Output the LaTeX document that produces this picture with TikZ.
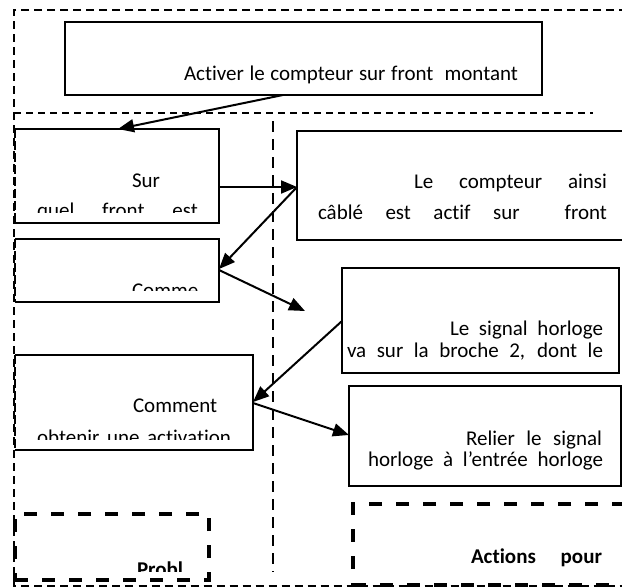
\documentclass[tikz,border=0pt]{standalone}
\usepackage{fontspec}
\setmainfont{Carlito}[Ligatures=NoCommon]
\usetikzlibrary{arrows.meta,calc}
\newcommand{\jl}[2]{\makebox[#1][s]{#2}}
\begin{document}
\begin{tikzpicture}[x=1pt,y=-1pt,
  boxn/.style={draw=black,line width=2pt,inner sep=0pt,outer sep=0pt,anchor=north west},
  openbox/.style={inner sep=0pt,outer sep=0pt,anchor=north west},
  edge/.style={draw=black,line width=2pt},
  leftedge/.style={draw=black,line width=2.4pt,dash pattern=on 9pt off 3pt},
  thickbox/.style={draw=black,line width=4pt,dash pattern=on 13pt off 14pt,inner sep=0pt,outer sep=0pt,anchor=north west},
  outerline/.style={draw=black,line width=2pt,dash pattern=on 8pt off 5pt},
  hline/.style={draw=black,line width=1.7pt,dash pattern=on 7pt off 5pt},
  vline/.style={draw=black,line width=2.2pt,dash pattern=on 11pt off 7pt},
  arr/.style={draw=black,line width=2pt,-{Triangle[length=16pt,width=13pt]}},
  txt/.style={inner sep=0pt,outer sep=0pt,anchor=base west,font=\fontsize{21}{25}\selectfont},
  btxt/.style={txt,font=\fontsize{21}{25}\selectfont\bfseries}]
\useasboundingbox (0,0) rectangle (622,587);
\clip (0,0) rectangle (622,587);
\fill[white] (0,0) rectangle (622,587);

% frame lines
\coordinate (otr) at (640,10);
\coordinate (otl) at (14,10);
\coordinate (obl) at (14,585.5);
\coordinate (obr) at (640,585.5);
\draw[outerline] (otr) -- (otl) -- (obl) -- (obr);
\coordinate (hl) at (14,113);
\coordinate (hr) at (593,113);
\draw[hline] (hl) -- (hr);
\coordinate (vt) at (273,121);
\coordinate (vb) at (273,572);
\draw[vline] (vt) -- (vb);

% boxes
\node[boxn,minimum width=477pt,minimum height=73pt] (top) at (65,22) {};
\node[openbox,minimum width=204pt,minimum height=94pt] (sur) at (15,129) {};
\draw[edge] (sur.north west) -- (sur.north east) -- (sur.south east) -- (sur.south west);
\draw[leftedge] (sur.north west) -- (sur.south west);
\node[boxn,minimum width=345pt,minimum height=109pt] (cpt) at (297,131) {};
\node[openbox,minimum width=204pt,minimum height=63pt] (comme) at (15,239) {};
\draw[edge] (comme.north west) -- (comme.north east) -- (comme.south east) -- (comme.south west);
\draw[leftedge] (comme.north west) -- (comme.south west);
\node[boxn,minimum width=277pt,minimum height=105pt] (sig) at (342,268) {};
\node[openbox,minimum width=238pt,minimum height=95pt] (comment) at (15,355) {};
\draw[edge] (comment.north west) -- (comment.north east) -- (comment.south east) -- (comment.south west);
\draw[leftedge] (comment.north west) -- (comment.south west);
\node[boxn,minimum width=272pt,minimum height=100pt] (rel) at (349,386) {};
\node[thickbox,minimum width=194pt,minimum height=66pt] (prob) at (15,514) {};
\node[thickbox,minimum width=271pt,minimum height=81pt] (act) at (353,504) {};

% texts
\node[txt] (t0) at (184,80) {\jl{334pt}{Activer le compteur sur front\ \ montant}};
\begin{scope}
  \clip (16,129) rectangle (220,212);
  \node[txt] (t1a) at (132,187) {Sur};
  \node[txt] (t1b) at (37,217) {\jl{161pt}{quel front est}};
\end{scope}
\node[txt] (t2a) at (414,188) {\jl{193pt}{Le compteur ainsi}};
\node[txt] (t2b) at (318,219) {\jl{289pt}{câblé est actif sur \ front}};
\begin{scope}
  \clip (16,239) rectangle (220,290);
  \node[txt] (t3a) at (132,297) {Comme};
\end{scope}
\node[txt] (t4a) at (450,335) {\jl{153pt}{Le signal horloge}};
\node[txt] (t4b) at (347,357) {\jl{256pt}{va sur la broche 2, dont le}};
\begin{scope}
  \clip (16,355) rectangle (253,439);
  \node[txt] (t5a) at (133,412) {Comment};
  \node[txt] (t5b) at (37,444) {\jl{194pt}{obtenir une activation}};
\end{scope}
\begin{scope}
  \clip (349,386) rectangle (621,470);
  \node[txt] (t6a) at (466,445) {\jl{136pt}{Relier le signal}};
  \node[txt] (t6b) at (368,466) {\jl{235pt}{horloge à l’entrée horloge}};
\end{scope}
\begin{scope}
  \clip (15,514) rectangle (209,571);
  \node[btxt] (t7) at (137,576) {Probl};
\end{scope}
\node[btxt] (t8) at (471,563) {\jl{131pt}{Actions pour}};

% arrows
\coordinate (free) at (305,311);
\draw[arr] ($(top.south west)+(218,0)$) -- ($(sur.north west)+(103,0)$);
\draw[arr] ($(sur.north east)+(0,58)$) -- ($(cpt.north west)+(0,56)$);
\draw[arr] ($(cpt.north west)+(0,56)$) -- ($(comme.north east)+(0,30)$);
\draw[arr] ($(comme.north east)+(0,31)$) -- (free);
\draw[arr] ($(sig.north west)+(0,53)$) -- ($(comment.north east)+(0,47)$);
\draw[arr] ($(comment.north east)+(0,48)$) -- ($(rel.north west)+(0,49)$);
\end{tikzpicture}
\end{document}
